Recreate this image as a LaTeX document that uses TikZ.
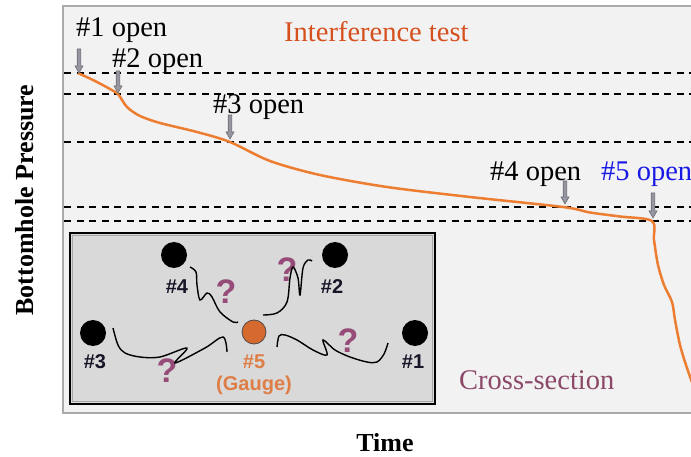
\documentclass[tikz,border=0pt]{standalone}
\usepackage{fontspec}
\setmainfont{Liberation Serif}
\newfontfamily\insetfont{Liberation Sans}
\definecolor{curvec}{RGB}{237,125,49}
\definecolor{titlec}{RGB}{214,80,30}
\definecolor{mauvec}{RGB}{140,72,105}
\definecolor{qc}{RGB}{150,75,120}
\definecolor{bluec}{RGB}{25,25,230}
\definecolor{gaugec}{RGB}{214,105,45}
\definecolor{gaugetc}{RGB}{222,125,70}
\definecolor{panelc}{RGB}{242,242,242}
\definecolor{panelb}{RGB}{170,170,170}
\definecolor{insetc}{RGB}{217,217,217}
\definecolor{wellc}{RGB}{22,22,40}
\definecolor{arrowf}{RGB}{150,150,160}
\definecolor{arrowd}{RGB}{110,110,120}
\begin{document}
\begin{tikzpicture}[x=1bp,y=-1bp,
  opentext/.style={font=\fontsize{28.5bp}{32bp}\selectfont, inner sep=0pt, anchor=base west},
  axistext/.style={font=\fontsize{26bp}{30bp}\selectfont\bfseries, inner sep=0pt},
  dashline/.style={line width=1.8bp, dash pattern=on 7bp off 5.5bp},
  wellnode/.style={circle, fill=black, minimum size=26bp, inner sep=0pt},
  welllabel/.style={font=\insetfont\fontsize{20bp}{22bp}\selectfont\bfseries, text=wellc, inner sep=0pt},
  qmark/.style={font=\insetfont\fontsize{34bp}{36bp}\selectfont\bfseries, text=qc, inner sep=0pt},
  squiggle/.style={line width=1.4bp, black},
  pics/downarrow/.style={code={
    \filldraw[fill=arrowf, draw=arrowd, line width=0.6bp]
      (-1.8,0) -- (-1.8,#1-7) -- (-4,#1-7) -- (0,#1) -- (4,#1-7) -- (1.8,#1-7) -- (1.8,0) -- cycle;}}
]
\useasboundingbox (0,0) rectangle (691,457);
\fill[white] (0,0) rectangle (691,457);
% plot panel
\filldraw[fill=panelc, draw=panelb, line width=2bp] (63,6) rectangle (710,413);
% dashed levels
\foreach \yy/\nm in {73/la,94/lb,142/lc,207/ld,221/le}{
  \coordinate (\nm s) at (64,\yy);
  \coordinate (\nm e) at (691,\yy);
  \draw[dashline] (\nm s) -- (\nm e);
}
% pressure curve
\draw[curvec, line width=2.5bp, line join=round] plot[smooth, tension=0.5] coordinates {
 (78,73) (95,81) (110,89) (118,94) (122,100) (128,108) (140,116) (160,123) (197,132)
 (230,142) (270,161) (320,175) (387,187) (470,197) (563,207) (590,212.5) (620,216.5)
 (652,221) (654,240) (658,265) (664,285) (672,302) (675,320) (680,345) (686,365) (694,388)};
% open arrows
\pic at (79,49) {downarrow=24};
\pic at (118,71) {downarrow=22};
\pic at (230,115) {downarrow=24};
\pic at (565,181) {downarrow=23};
\pic at (653,193) {downarrow=25};
% open labels
\node[opentext] (o1) at (76,37) {\#1 open};
\node[opentext] (o2) at (112,68) {\#2 open};
\node[opentext] (o3) at (213,114) {\#3 open};
\node[opentext] (o4) at (490,181) {\#4 open};
\node[opentext, text=bluec] (o5) at (601,181) {\#5 open};
\node[opentext, text=titlec, font=\fontsize{28.5bp}{32bp}\selectfont] (title) at (284,42) {Interference test};
\node[opentext, text=mauvec, font=\fontsize{28.5bp}{32bp}\selectfont] (cs) at (459,389) {Cross-section};
% axis labels
\node[axistext] (xl) at (385,443) {Time};
\node[axistext, rotate=90] (yl) at (25,200) {Bottomhole Pressure};
% inset
\draw[fill=insetc, draw=black, line width=1.6bp] (70,233) rectangle (435,404);
\draw[draw=gray!70, line width=0.8bp] (72.5,235.5) rectangle (432.5,401.5);
\node[wellnode] (w4) at (174,255) {};
\node[wellnode] (w2) at (335,255) {};
\node[wellnode] (w3) at (93,333) {};
\node[wellnode] (w1) at (415,333) {};
\node[circle, fill=gaugec, draw=black!70, line width=0.8bp, minimum size=24bp, inner sep=0pt] (w5) at (254,332) {};
\node[welllabel] (l4) at (177,287) {\#4};
\node[welllabel] (l2) at (332,287) {\#2};
\node[welllabel] (l3) at (95,362) {\#3};
\node[welllabel] (l1) at (413,362) {\#1};
\node[welllabel, text=gaugetc] (l5) at (254,362) {\#5};
\node[welllabel, text=gaugetc] (lg) at (254,385) {(Gauge)};
\node[qmark] (q4) at (226,292) {?};
\node[qmark] (q2) at (287,270) {?};
\node[qmark] (q3) at (167,371) {?};
\node[qmark] (q1) at (348,341) {?};
% squiggles
\draw[squiggle] plot[smooth, tension=0.55] coordinates {
 (190,267) (196,272) (197,285) (200,300) (207,293) (212,297) (220,312) (233,322) (238,322)};
\draw[squiggle] plot[smooth, tension=0.55] coordinates {
 (263,315) (277,313) (287,302) (290,278) (293,267) (298,278) (300,295) (303,268) (308,260) (312,261)};
\draw[squiggle] plot[smooth, tension=0.55] coordinates {
 (113,328) (118,345) (125,353) (140,357) (160,357) (187,348) (175,363) (205,348) (223,337) (227,352)};
\draw[squiggle] plot[smooth, tension=0.55] coordinates {
 (277,347) (279,336) (285,335) (297,340) (313,350) (327,355) (323,340) (335,350) (350,357) (367,362) (377,362) (384,354) (388,343)};
\end{tikzpicture}
\end{document}
